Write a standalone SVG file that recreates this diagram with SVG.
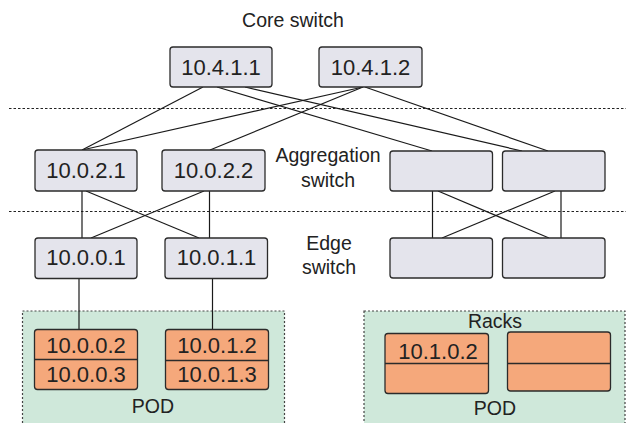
<svg xmlns="http://www.w3.org/2000/svg" width="626" height="423" viewBox="0 0 626 423">
  <style>
    .sw { fill: #e4e4ec; stroke: #2b2b2b; stroke-width: 1.3; }
    .rack { fill: #f5a87b; stroke: #2b2b2b; stroke-width: 1.3; }
    .pod { fill: #cfe8da; stroke: #444; stroke-width: 1.2; stroke-dasharray: 2 2; }
    .sep { stroke: #222; stroke-width: 1; stroke-dasharray: 2.5 2; fill: none; }
    .div { stroke: #2b2b2b; stroke-width: 1.3; }
    .ip { font-family: "Liberation Sans", Arial, sans-serif; font-size: 22px; fill: #222; text-anchor: middle; }
    .lbl { font-family: "Liberation Sans", Arial, sans-serif; font-size: 19.5px; fill: #222; text-anchor: middle; }
    #links line { stroke: #1a1a1a; stroke-width: 1.2; }
  </style>

  <!-- tier separators -->
  <line class="sep" x1="9" y1="108.5" x2="626" y2="108.5"/>
  <line class="sep" x1="9" y1="211.5" x2="626" y2="211.5"/>

  <!-- tier labels -->
  <text class="lbl" x="293" y="27">Core switch</text>
  <text class="lbl" x="328" y="162">Aggregation</text>
  <text class="lbl" x="328" y="187">switch</text>
  <text class="lbl" x="329" y="250">Edge</text>
  <text class="lbl" x="329" y="274">switch</text>

  <!-- pods -->
  <g id="pod-left">
    <rect class="pod" x="22.5" y="311" width="262" height="130"/>
    <text class="lbl" x="153" y="413">POD</text>
  </g>
  <g id="pod-right">
    <rect class="pod" x="364" y="311" width="261" height="130"/>
    <text class="lbl" x="495" y="328">Racks</text>
    <text class="lbl" x="495" y="415">POD</text>
  </g>

  <!-- connectors -->
  <g id="links">
    <!-- core to aggregation -->
    <line x1="203" y1="87" x2="82" y2="150"/>
    <line x1="363" y1="87" x2="82" y2="150"/>
    <line x1="363" y1="87" x2="210" y2="150"/>
    <line x1="217" y1="87" x2="432" y2="151"/>
    <line x1="245" y1="87" x2="522" y2="151"/>
    <line x1="365" y1="87" x2="548" y2="151"/>
    <!-- aggregation to edge, left pod -->
    <line x1="82" y1="191" x2="82" y2="238"/>
    <line x1="86" y1="191" x2="199" y2="238"/>
    <line x1="209.5" y1="191" x2="209.5" y2="238"/>
    <line x1="204" y1="191" x2="91" y2="238"/>
    <!-- aggregation to edge, right pod -->
    <line x1="432.5" y1="191" x2="432.5" y2="238"/>
    <line x1="438" y1="191" x2="549" y2="238"/>
    <line x1="561" y1="191" x2="561" y2="238"/>
    <line x1="555" y1="191" x2="442" y2="238"/>
    <!-- edge to racks -->
    <line x1="79" y1="278" x2="79" y2="329"/>
    <line x1="212.5" y1="278" x2="212.5" y2="329"/>
  </g>

  <!-- core switches -->
  <g id="core-1">
    <rect class="sw" x="170" y="47" width="102" height="40" rx="3"/>
    <text class="ip" x="221" y="74.5">10.4.1.1</text>
  </g>
  <g id="core-2">
    <rect class="sw" x="319" y="47" width="103" height="40" rx="3"/>
    <text class="ip" x="370.5" y="74.5">10.4.1.2</text>
  </g>

  <!-- aggregation switches -->
  <g id="agg-1">
    <rect class="sw" x="35" y="150" width="102" height="41" rx="3"/>
    <text class="ip" x="86" y="177.5">10.0.2.1</text>
  </g>
  <g id="agg-2">
    <rect class="sw" x="162" y="150" width="103" height="41" rx="3"/>
    <text class="ip" x="213.5" y="177.5">10.0.2.2</text>
  </g>
  <g id="agg-3">
    <rect class="sw" x="390" y="151" width="102.5" height="40" rx="3"/>
  </g>
  <g id="agg-4">
    <rect class="sw" x="502.5" y="151" width="102.5" height="40" rx="3"/>
  </g>

  <!-- edge switches -->
  <g id="edge-1">
    <rect class="sw" x="35" y="238" width="102" height="40.5" rx="3"/>
    <text class="ip" x="86" y="265">10.0.0.1</text>
  </g>
  <g id="edge-2">
    <rect class="sw" x="165" y="238" width="102.5" height="40.5" rx="3"/>
    <text class="ip" x="216.5" y="265">10.0.1.1</text>
  </g>
  <g id="edge-3">
    <rect class="sw" x="390" y="238" width="102.5" height="40" rx="3"/>
  </g>
  <g id="edge-4">
    <rect class="sw" x="502.5" y="238" width="102.5" height="40" rx="3"/>
  </g>

  <!-- racks -->
  <g id="rack-1">
    <rect class="rack" x="34.5" y="329.5" width="103" height="60" rx="3"/>
    <line class="div" x1="34.5" y1="359.5" x2="137.5" y2="359.5"/>
    <text class="ip" x="86" y="352.5">10.0.0.2</text>
    <text class="ip" x="86" y="381.5">10.0.0.3</text>
  </g>
  <g id="rack-2">
    <rect class="rack" x="165.5" y="329.5" width="103" height="60" rx="3"/>
    <line class="div" x1="165.5" y1="360.5" x2="268.5" y2="360.5"/>
    <text class="ip" x="217" y="352.5">10.0.1.2</text>
    <text class="ip" x="217" y="382">10.0.1.3</text>
  </g>
  <g id="rack-3">
    <rect class="rack" x="385" y="333.5" width="103.5" height="60" rx="3"/>
    <line class="div" x1="385" y1="363.5" x2="488.5" y2="363.5"/>
    <text class="ip" x="438" y="359">10.1.0.2</text>
  </g>
  <g id="rack-4">
    <rect class="rack" x="507.5" y="332" width="103" height="59" rx="3"/>
    <line class="div" x1="507.5" y1="363.5" x2="610.5" y2="363.5"/>
  </g>
</svg>
